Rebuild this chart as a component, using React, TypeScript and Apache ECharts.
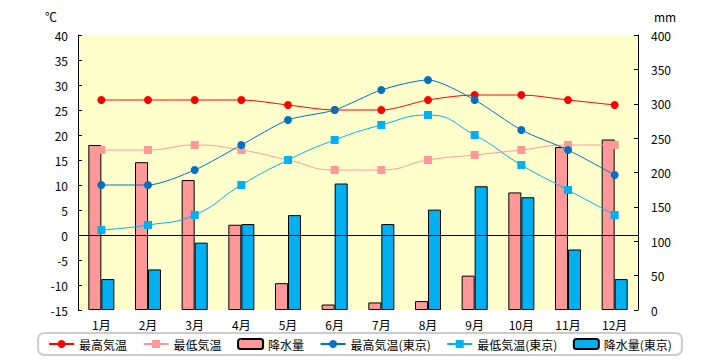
import React, { useEffect, useRef } from "react";
import * as echarts from "echarts";

const categories = ["1月", "2月", "3月", "4月", "5月", "6月", "7月", "8月", "9月", "10月", "11月", "12月"];
const highTemp = [27, 27, 27, 27, 26, 25, 25, 27, 28, 28, 27, 26];
const lowTemp = [17, 17, 18, 17, 15, 13, 13, 15, 16, 17, 18, 18];
const rain = [240, 215, 189, 124, 39, 8, 11, 13, 50, 171, 237, 248];
const highTempTokyo = [10, 10, 13, 18, 23, 25, 29, 31, 27, 21, 17, 12];
const lowTempTokyo = [1, 2, 4, 10, 15, 19, 22, 24, 20, 14, 9, 4];
const rainTokyo = [45, 59, 98, 125, 138, 184, 125, 146, 180, 164, 88, 45];

const FONT = "'Noto Sans CJK JP', sans-serif";

export default function App() {
  const ref = useRef<HTMLDivElement>(null);
  useEffect(() => {
    if (!ref.current) return;
    const chart = echarts.init(ref.current, null, { renderer: "svg" });
    const lineSeries = (name: string, data: number[], color: string, symbol: string, smooth: number, extra: any = {}) => ({
      name,
      type: "line",
      data,
      yAxisIndex: 0,
      smooth,
      symbol,
      symbolSize: 8,
      z: 5,
      lineStyle: { color, width: 1 },
      itemStyle: { color },
      ...extra,
    });
    chart.setOption({
      animation: false,
      textStyle: { fontFamily: FONT },
      grid: {
        left: 78,
        right: 82,
        top: 35,
        bottom: 50,
        show: true,
        backgroundColor: "#FFFFCC",
        borderWidth: 0,
      },
      legend: {
        left: "center",
        top: 333,
        itemWidth: 25,
        itemHeight: 10,
        itemGap: 15.5,
        padding: [5, 10],
        borderColor: "#cccccc",
        borderWidth: 2,
        borderRadius: 6,
        textStyle: { fontSize: 12, color: "#000", fontFamily: FONT },
        data: ["最高気温", "最低気温", "降水量", "最高気温(東京)", "最低気温(東京)", "降水量(東京)"],
      },
      xAxis: {
        type: "category",
        data: categories,
        axisLine: { show: false },
        axisTick: { show: false },
        axisLabel: { color: "#000", fontSize: 12, margin: 8, fontFamily: FONT },
        splitLine: { show: false },
      },
      yAxis: [
        {
          type: "value",
          min: -15,
          max: 40,
          interval: 5,
          position: "left",
          axisLine: { show: true, lineStyle: { color: "#000", width: 1 } },
          axisTick: { show: true, inside: true, length: 4, lineStyle: { color: "#000" } },
          axisLabel: { color: "#000", fontSize: 12, margin: 10, fontFamily: FONT },
          splitLine: { show: false },
        },
        {
          type: "value",
          min: 0,
          max: 400,
          interval: 50,
          position: "right",
          axisLine: { show: true, lineStyle: { color: "#000", width: 1 } },
          axisTick: { show: true, inside: true, length: 4, lineStyle: { color: "#000" } },
          axisLabel: { color: "#000", fontSize: 12, margin: 13, fontFamily: FONT },
          splitLine: { show: false },
        },
      ],
      graphic: [
        { type: "text", left: 45, top: 10, style: { text: "℃", fontSize: 12, fill: "#000", fontFamily: FONT } },
        { type: "text", left: 654, top: 10, style: { text: "mm", fontSize: 12, fill: "#000", fontFamily: FONT } },
      ],
      series: [
        lineSeries("最高気温", highTemp, "#FF0000", "circle", 0.3, {
          markLine: {
            silent: true,
            symbol: "none",
            label: { show: false },
            lineStyle: { color: "#000", type: "solid", width: 1 },
            data: [{ yAxis: 0 }],
          },
        }),
        lineSeries("最低気温", lowTemp, "#FF9999", "rect", 0.5),
        {
          name: "降水量",
          type: "bar",
          yAxisIndex: 1,
          data: rain,
          barWidth: 13,
          barGap: "0%",
          itemStyle: { color: "#FF9999", borderColor: "#000", borderWidth: 1 },
          z: 2,
        },
        lineSeries("最高気温(東京)", highTempTokyo, "#0070C0", "circle", 0.25),
        lineSeries("最低気温(東京)", lowTempTokyo, "#00B0F0", "rect", 0.5),
        {
          name: "降水量(東京)",
          type: "bar",
          yAxisIndex: 1,
          data: rainTokyo,
          barWidth: 13,
          barGap: "0%",
          itemStyle: { color: "#00B0F0", borderColor: "#000", borderWidth: 1 },
          z: 2,
        },
      ],
    });
    return () => chart.dispose();
  }, []);
  return (
    <div
      ref={ref}
      style={{ position: "fixed", left: 0, top: 0, width: 720, height: 360, background: "#fff" }}
    />
  );
}
